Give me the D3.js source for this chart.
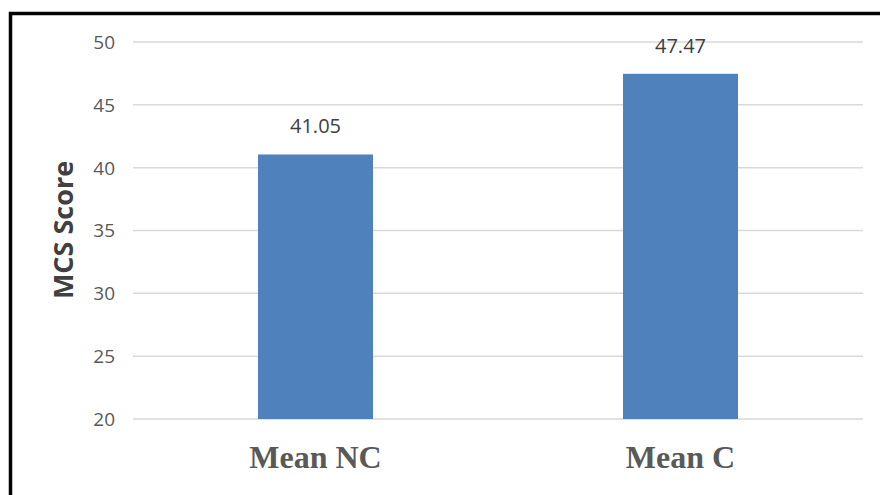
<!DOCTYPE html>
<html>
<head>
<meta charset="utf-8">
<script src="https://cdn.jsdelivr.net/npm/d3@7"></script>
<style>
  body { margin: 0; background: #fff; }
  svg { display: block; }
</style>
</head>
<body>
<div id="chart"></div>
<script>
// Data
var categories = ["Mean NC", "Mean C"];
var scores = [41.05, 47.47];
var yTicks = [20, 25, 30, 35, 40, 45, 50];
var yTitle = "MCS Score";

var width = 880, height = 495;

var svg = d3.select("#chart")
    .append("svg")
    .attr("width", width)
    .attr("height", height);

// frame round the chart (right and bottom sides run off the picture)
svg.append("path")
    .attr("d", "M10.5,495 V13.5 H880")
    .attr("fill", "none")
    .attr("stroke", "#000")
    .attr("stroke-width", 3.5);

var x = d3.scaleBand()
    .domain(categories)
    .range([133, 863])
    .paddingInner(0.685)
    .paddingOuter(0.3425);

var y = d3.scaleLinear().domain([20, 50]).range([419, 42]);

// gridlines
svg.append("g")
    .selectAll("line")
    .data(yTicks)
    .enter()
    .append("line")
    .attr("x1", 133)
    .attr("x2", 863)
    .attr("y1", function (d) { return y(d); })
    .attr("y2", function (d) { return y(d); })
    .attr("stroke", "#d9d9d9")
    .attr("stroke-width", 1.5);

// y tick labels
svg.append("g")
    .selectAll("text")
    .data(yTicks)
    .enter()
    .append("text")
    .attr("x", 115)
    .attr("y", function (d) { return y(d); })
    .attr("dy", "0.36em")
    .attr("text-anchor", "end")
    .attr("font-family", "'Open Sans', sans-serif")
    .attr("font-size", 19)
    .attr("fill", "#595959")
    .text(function (d) { return d; });

// bars
svg.append("g")
    .selectAll("rect")
    .data(scores)
    .enter()
    .append("rect")
    .attr("x", function (d, i) { return x(categories[i]); })
    .attr("width", x.bandwidth())
    .attr("y", function (d) { return y(d); })
    .attr("height", function (d) { return y(20) - y(d); })
    .attr("fill", "#4f81bd");

// value labels
svg.append("g")
    .selectAll("text")
    .data(scores)
    .enter()
    .append("text")
    .attr("x", function (d, i) { return x(categories[i]) + x.bandwidth() / 2; })
    .attr("y", function (d) { return y(d) - 21; })
    .attr("text-anchor", "middle")
    .attr("font-family", "'Open Sans', sans-serif")
    .attr("font-size", 20)
    .attr("fill", "#404040")
    .text(function (d) { return d.toFixed(2); });

// category labels
svg.append("g")
    .selectAll("text")
    .data(categories)
    .enter()
    .append("text")
    .attr("x", function (d) { return x(d) + x.bandwidth() / 2; })
    .attr("y", 468)
    .attr("text-anchor", "middle")
    .attr("font-family", "'Liberation Serif', 'Times New Roman', serif")
    .attr("font-weight", "bold")
    .attr("font-size", 32)
    .attr("fill", "#595959")
    .text(function (d) { return d; });

// y axis title
svg.append("text")
    .attr("transform", "translate(73,230) rotate(-90)")
    .attr("text-anchor", "middle")
    .attr("font-family", "'Open Sans', sans-serif")
    .attr("font-weight", "bold")
    .attr("font-size", 27)
    .attr("fill", "#404040")
    .text(yTitle);
</script>
</body>
</html>
